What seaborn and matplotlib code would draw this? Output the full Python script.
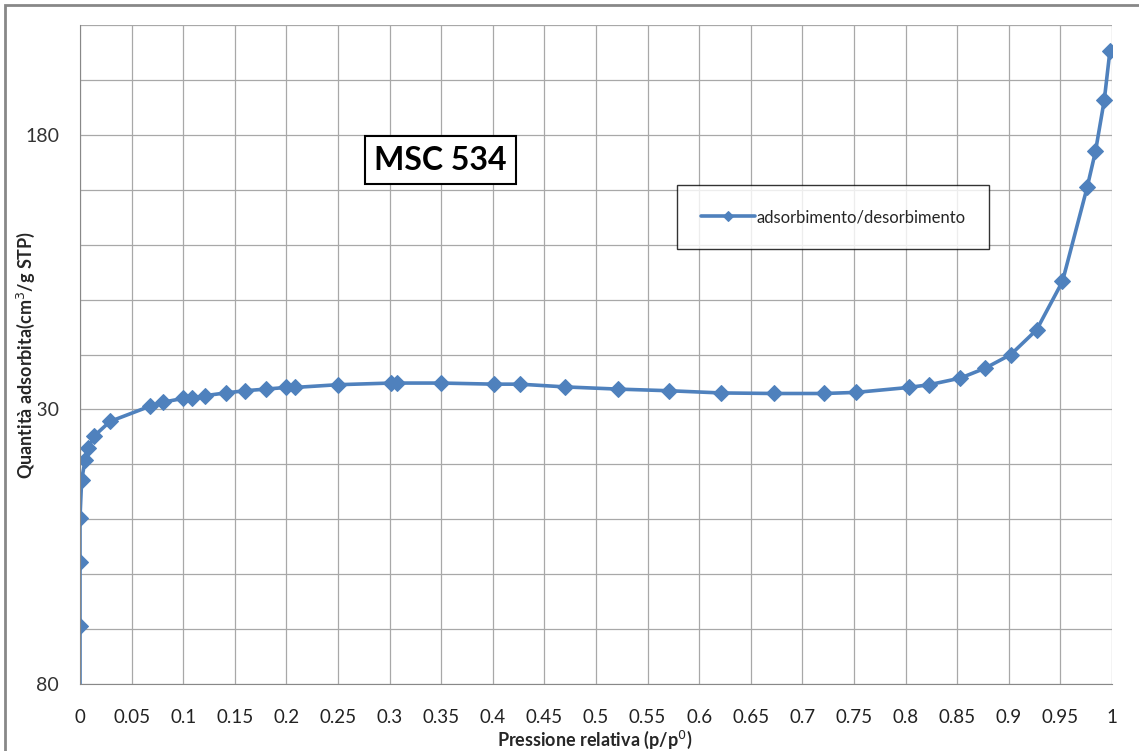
import numpy as np
import matplotlib
matplotlib.use("Agg")
import matplotlib.pyplot as plt
import matplotlib.patches as mpatches
import pandas as pd
import seaborn as sns

# relative pressure p/p0 and adsorbed quantity (cm3/g STP)
pressure = [0.0, 0.0, 0.0, 0.0, 0.0016, 0.005, 0.008, 0.014, 0.029, 0.068, 0.080,
            0.0997, 0.109, 0.121, 0.141, 0.160, 0.180, 0.200, 0.208, 0.250, 0.301,
            0.307, 0.350, 0.401, 0.426, 0.470, 0.521, 0.571, 0.621, 0.672, 0.721,
            0.752, 0.803, 0.823, 0.853, 0.877, 0.902, 0.927, 0.952, 0.976, 0.984,
            0.9925, 0.998]
quantity = [70.0, 90.6, 102.2, 110.3, 117.2, 120.8, 123.0, 125.2, 127.8, 130.6, 131.3,
            132.0, 132.1, 132.5, 133.0, 133.4, 133.7, 134.0, 134.0, 134.5, 134.8,
            134.8, 134.8, 134.6, 134.6, 134.1, 133.7, 133.4, 133.0, 132.9, 132.9,
            133.1, 134.0, 134.5, 135.7, 137.5, 140.0, 144.5, 153.3, 170.5, 177.0,
            186.3, 195.3]
x_ticks = np.round(np.arange(0, 1.0001, 0.05), 2)
y_labels = {80: "80", 130: "130", 180: "180"}

df = pd.DataFrame({"p": pressure, "q": quantity})

sns.set_style("white")
plt.rcParams['font.family'] = ['Lato', 'DejaVu Sans']

fig = plt.figure(figsize=(11.39, 7.51), dpi=100)
ax = fig.add_axes([80 / 1139, 1 - 684 / 751, 1032 / 1139, 659 / 751])

blue = "#4F81BD"
sns.lineplot(data=df, x="p", y="q", ax=ax, sort=False, estimator=None,
             color=blue, lw=2.6, marker="D", markersize=8, markeredgecolor=blue,
             label="adsorbimento/desorbimento")

ax.set_xlim(0, 1)
ax.set_ylim(80, 200)
ax.set_xticks(x_ticks)
ax.set_xticklabels([f"{v:g}" for v in x_ticks], fontsize=13.5, color="#222222")
ax.set_xticks(np.arange(0, 1.0001, 0.01), minor=True)
yt = np.arange(80, 201, 10)
ax.set_yticks(yt)
ax.set_yticklabels([y_labels.get(int(v), "") for v in yt], fontsize=14, color="#333333")
ax.grid(True, which="major", color="#a8a8a8", lw=0.9)
ax.tick_params(axis="x", which="major", direction="inout", length=12, color="#888888",
               width=0.9, pad=12)
ax.tick_params(axis="x", which="minor", direction="inout", length=8, color="#888888",
               width=0.9)
ax.tick_params(axis="y", which="major", direction="out", length=7, color="#888888",
               width=0.9, pad=8)
for s in ["top", "right"]:
    ax.spines[s].set_visible(False)
ax.spines["left"].set_color("#888888")
ax.spines["bottom"].set_color("#888888")
ax.set_xlabel("")
ax.set_ylabel("")

fig.text(595 / 1139, 1 - 740 / 751, "Pressione relativa (p/p$^0$)", ha="center",
         va="center", fontsize=13, fontweight="bold")
fig.text(26 / 1139, 1 - 355 / 751, "Quantità adsorbita(cm$^3$/g STP)", ha="center",
         va="center", rotation=90, fontsize=13, fontweight="bold",
         bbox=dict(facecolor="white", edgecolor="none", pad=0.5))

ax.text(0.3493, 0.795, "MSC 534", transform=ax.transAxes, ha="center", va="center",
        fontsize=23, fontweight="bold", color="black",
        bbox=dict(facecolor="white", edgecolor="black", lw=1.5, boxstyle="square,pad=0.3"))

leg = ax.legend(loc="upper left", bbox_to_anchor=((677 - 80) / 1032, 1 - (185 - 25) / 659),
                frameon=True, fancybox=False, fontsize=12, handlelength=3.2,
                handletextpad=0.1, borderpad=1.45, borderaxespad=0, markerscale=0.6)
leg.get_frame().set_edgecolor("black")
leg.get_frame().set_linewidth(1.0)

fig.patches.append(mpatches.Rectangle((5 / 1139, -0.1), 1.2, 1 - 5 / 751 + 0.1,
                                      transform=fig.transFigure, fill=False,
                                      edgecolor="#888888", lw=2))

fig.savefig("out.png", dpi=100)
